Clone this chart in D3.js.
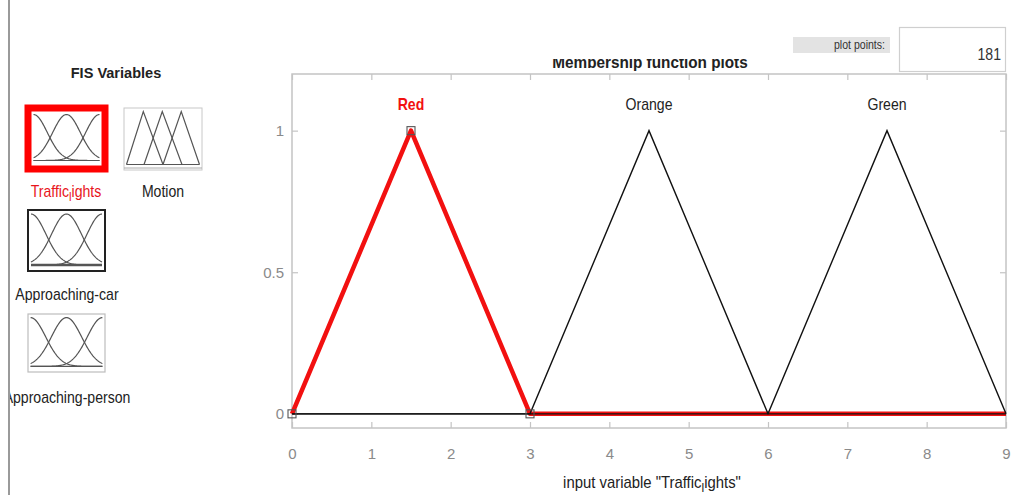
<!DOCTYPE html>
<html>
<head>
<meta charset="utf-8">
<script src="https://cdn.jsdelivr.net/npm/d3@7"></script>
<style>
  html, body { margin: 0; padding: 0; background: #fff; }
  svg { display: block; font-family: "Liberation Sans", Arial, sans-serif; }
</style>
</head>
<body>
<svg id="chart" width="1011" height="495"></svg>
<script>
// ---- Membership functions of the input variable "Traffic_lights" (triangular: a, b, c) ----
const mfNames = ["Red", "Orange", "Green"];
const mfParams = [[0, 1.5, 3], [3, 4.5, 6], [6, 7.5, 9]];
const selectedMf = 0;
const inputRange = [0, 9];
const xTicks = [0, 1, 2, 3, 4, 5, 6, 7, 8, 9];
const yTicks = [0, 0.5, 1];
const yTickLabels = ["0", "0.5", "1"];
const plotPoints = 181;

// ---- FIS variable thumbnails ----
const fisVarNames = ["Traffic_lights", "Motion", "Approaching-car", "Approaching-person"];
const fisVarShapes = ["gauss", "tri", "gauss", "gauss"];
// gaussian thumbnails: [center, sigma] on a 0..1 range
const gaussThumbParams = [[0, 0.21], [0.5, 0.21], [1, 0.21]];
// triangular thumbnails: [a, b, c] on a 0..1 range
const triThumbParams = [[0, 0.23, 0.5], [0.24, 0.49, 0.76], [0.5, 0.75, 1]];

const svg = d3.select("#chart");

// horizontal squeeze helper for narrow-looking UI text
function squeeze(sel, cx, k) {
  return sel.attr("transform", `translate(${cx},0) scale(${k},1) translate(${-cx},0)`);
}

// ---------- left panel ----------
const defs = svg.append("defs");
defs.append("clipPath").attr("id", "leftClip")
  .append("rect").attr("x", 10).attr("y", 0).attr("width", 250).attr("height", 495);
defs.append("clipPath").attr("id", "titleClip").attr("clipPathUnits", "userSpaceOnUse")
  .append("rect").attr("x", 400).attr("y", 59).attr("width", 500).attr("height", 30);

svg.append("line").attr("x1", 9).attr("x2", 9).attr("y1", 0).attr("y2", 495)
  .attr("stroke", "#9a9a9a").attr("stroke-width", 2);

const left = svg.append("g").attr("clip-path", "url(#leftClip)");

squeeze(left.append("text").attr("x", 116).attr("y", 78).attr("text-anchor", "middle")
  .attr("font-size", 15).attr("font-weight", "bold").attr("fill", "#222")
  .text("FIS Variables"), 116, 0.97);

// thumbnail boxes (outer rectangle) for each variable
const thumbBoxes = [
  { x: 28, y: 108, w: 77, h: 61, border: "red", bw: 7, labelX: 66, labelY: 197, color: "#e8141b" },
  { x: 124, y: 108, w: 78, h: 62, border: "#c8c8c8", bw: 1, labelX: 163, labelY: 197, color: "#222" },
  { x: 28, y: 210, w: 77, h: 61, border: "#222", bw: 2, labelX: 67, labelY: 300, color: "#222" },
  { x: 28, y: 314, w: 77, h: 58, border: "#bdbdbd", bw: 1.2, labelX: 67, labelY: 403, color: "#222" }
];

function gaussMf(p) { return x => Math.exp(-((x - p[0]) ** 2) / (2 * p[1] * p[1])); }
function triMf(p) {
  return x => Math.max(0, Math.min((x - p[0]) / (p[1] - p[0]), (p[2] - x) / (p[2] - p[1])));
}

thumbBoxes.forEach((b, i) => {
  const g = left.append("g");
  g.append("rect").attr("x", b.x).attr("y", b.y).attr("width", b.w).attr("height", b.h)
    .attr("fill", "#fff").attr("stroke", b.border).attr("stroke-width", b.bw);
  const pad = b.bw / 2 + 2;
  const tx = d3.scaleLinear().domain([0, 1]).range([b.x + pad, b.x + b.w - pad]);
  const ty = d3.scaleLinear().domain([0, 1]).range([b.y + b.h - pad - 3, b.y + pad + 1]);
  const samples = d3.range(0, 1.0001, 0.01);
  const shape = fisVarShapes[i];
  const params = shape === "gauss" ? gaussThumbParams : triThumbParams;
  params.forEach(p => {
    const f = shape === "gauss" ? gaussMf(p) : triMf(p);
    const pts = shape === "gauss" ? samples : [p[0], p[1], p[2]];
    g.append("path")
      .attr("d", d3.line().x(d => tx(d)).y(d => ty(f(d)))(pts))
      .attr("fill", "none").attr("stroke", "#555").attr("stroke-width", 1.2);
  });
  // zero baseline of the thumbnail
  g.append("line").attr("x1", tx(0)).attr("x2", tx(1)).attr("y1", ty(0)).attr("y2", ty(0))
    .attr("stroke", "#555").attr("stroke-width", i === 2 ? 2.5 : 1.2);
  if (shape === "tri") {
    g.append("line").attr("x1", b.x).attr("x2", b.x + b.w).attr("y1", b.y + b.h - 2).attr("y2", b.y + b.h - 2)
      .attr("stroke", "#aaa").attr("stroke-width", 1);
  }

  // variable name; "_l" renders the following letter as a subscript
  const name = fisVarNames[i];
  const t = squeeze(g.append("text").attr("x", b.labelX).attr("y", b.labelY).attr("text-anchor", "middle")
    .attr("font-size", 16).attr("fill", b.color), b.labelX, 0.88);
  const us = name.indexOf("_");
  if (us >= 0) {
    t.append("tspan").text(name.slice(0, us));
    t.append("tspan").attr("dy", 4).attr("font-size", 13).text(name.charAt(us + 1));
    t.append("tspan").attr("dy", -4).text(name.slice(us + 2));
  } else {
    t.text(name);
  }
});

// ---------- membership function plot ----------
const margin = { left: 292, right: 1006, top: 74, bottom: 428 };
const x = d3.scaleLinear().domain(inputRange).range([margin.left, margin.right]);
const y = d3.scaleLinear().domain([-0.05, 1.2]).range([margin.bottom, margin.top]);

const plot = svg.append("g");

// title (its upper part sits behind the toolbar strip)
const titleG = plot.append("g").attr("clip-path", "url(#titleClip)");
squeeze(titleG.append("text").attr("x", 650).attr("y", 68).attr("text-anchor", "middle")
  .attr("font-size", 17).attr("font-weight", "bold").attr("fill", "#222")
  .text("Membership function plots"), 650, 0.9);

// axes box
plot.append("rect").attr("x", margin.left).attr("y", margin.top)
  .attr("width", margin.right - margin.left).attr("height", margin.bottom - margin.top)
  .attr("fill", "#fff").attr("stroke", "#c4c4c4").attr("stroke-width", 1.5);

// bottom / top ticks (inward)
const xAxisB = d3.axisBottom(x).tickValues(xTicks).tickSize(-6).tickPadding(20).tickFormat(d3.format("d"));
const gxb = plot.append("g").attr("transform", `translate(0,${margin.bottom})`).call(xAxisB);
const xAxisT = d3.axisTop(x).tickValues(xTicks).tickSize(-6).tickFormat("");
const gxt = plot.append("g").attr("transform", `translate(0,${margin.top})`).call(xAxisT);
const yAxisL = d3.axisLeft(y).tickValues(yTicks).tickSize(-6).tickPadding(8)
  .tickFormat((d, i) => yTickLabels[i]);
const gyl = plot.append("g").attr("transform", `translate(${margin.left},0)`).call(yAxisL);
const yAxisR = d3.axisRight(y).tickValues(yTicks).tickSize(-6).tickFormat("");
const gyr = plot.append("g").attr("transform", `translate(${margin.right},0)`).call(yAxisR);

[gxb, gxt, gyl, gyr].forEach(g => {
  g.select(".domain").remove();
  g.selectAll(".tick line").attr("stroke", "#c4c4c4").attr("stroke-width", 1.2);
  g.selectAll(".tick text").attr("fill", "#8a8a8a").attr("font-size", 15)
    .attr("font-family", "'Liberation Sans', Arial, sans-serif");
});
gxb.selectAll(".tick text").attr("dy", "0.71em");

// each MF sampled over the whole input range as a polyline
function mfPoints(p) {
  const pts = [[inputRange[0], 0]];
  p.forEach((v, k) => pts.push([v, k === 1 ? 1 : 0]));
  pts.push([inputRange[1], 0]);
  return pts;
}
const line = d3.line().x(d => x(d[0])).y(d => y(d[1]));

// selected MF in thick red underneath, others in thin black on top
plot.append("path").attr("d", line(mfPoints(mfParams[selectedMf])))
  .attr("fill", "none").attr("stroke", "#f21010").attr("stroke-width", 4.5).attr("stroke-linejoin", "round");
mfParams.forEach((p, i) => {
  if (i === selectedMf) return;
  plot.append("path").attr("d", line(mfPoints(p)))
    .attr("fill", "none").attr("stroke", "#111").attr("stroke-width", 1.4);
});

// control-point markers of the selected MF
mfParams[selectedMf].forEach((v, k) => {
  const yy = k === 1 ? 1 : 0;
  plot.append("rect").attr("x", x(v) - 4).attr("y", y(yy) - 4).attr("width", 8).attr("height", 8)
    .attr("fill", "none").attr("stroke", "#555").attr("stroke-width", 1.1);
});

// MF names above the peaks
mfNames.forEach((n, i) => {
  const cx = x(mfParams[i][1]);
  squeeze(plot.append("text").attr("x", cx).attr("y", y(1) - 21)
    .attr("text-anchor", "middle").attr("font-size", 16)
    .attr("fill", i === selectedMf ? "#f21010" : "#222")
    .attr("font-weight", i === selectedMf ? "bold" : "normal")
    .text(n), cx, 0.88);
});

// x-axis label with the subscripted "l" of Traffic_lights
const xl = squeeze(plot.append("text").attr("x", 652).attr("y", 488).attr("text-anchor", "middle")
  .attr("font-size", 16).attr("fill", "#222"), 652, 0.93);
xl.append("tspan").text("input variable \"Traffic");
xl.append("tspan").attr("dy", 4).attr("font-size", 13).text("l");
xl.append("tspan").attr("dy", -4).text("ights\"");

// plot points control
plot.append("rect").attr("x", 793).attr("y", 37).attr("width", 97).attr("height", 16).attr("fill", "#e3e3e3");
squeeze(plot.append("text").attr("x", 885).attr("y", 49).attr("text-anchor", "end")
  .attr("font-size", 12).attr("fill", "#333")
  .text("plot points:"), 885, 0.88);
plot.append("rect").attr("x", 899.5).attr("y", 27.5).attr("width", 106).attr("height", 44)
  .attr("fill", "#fff").attr("stroke", "#cfcfcf").attr("stroke-width", 1.2);
squeeze(plot.append("text").attr("x", 1001).attr("y", 60).attr("text-anchor", "end")
  .attr("font-size", 16).attr("fill", "#333")
  .text(plotPoints), 1001, 0.88);
</script>
</body>
</html>
